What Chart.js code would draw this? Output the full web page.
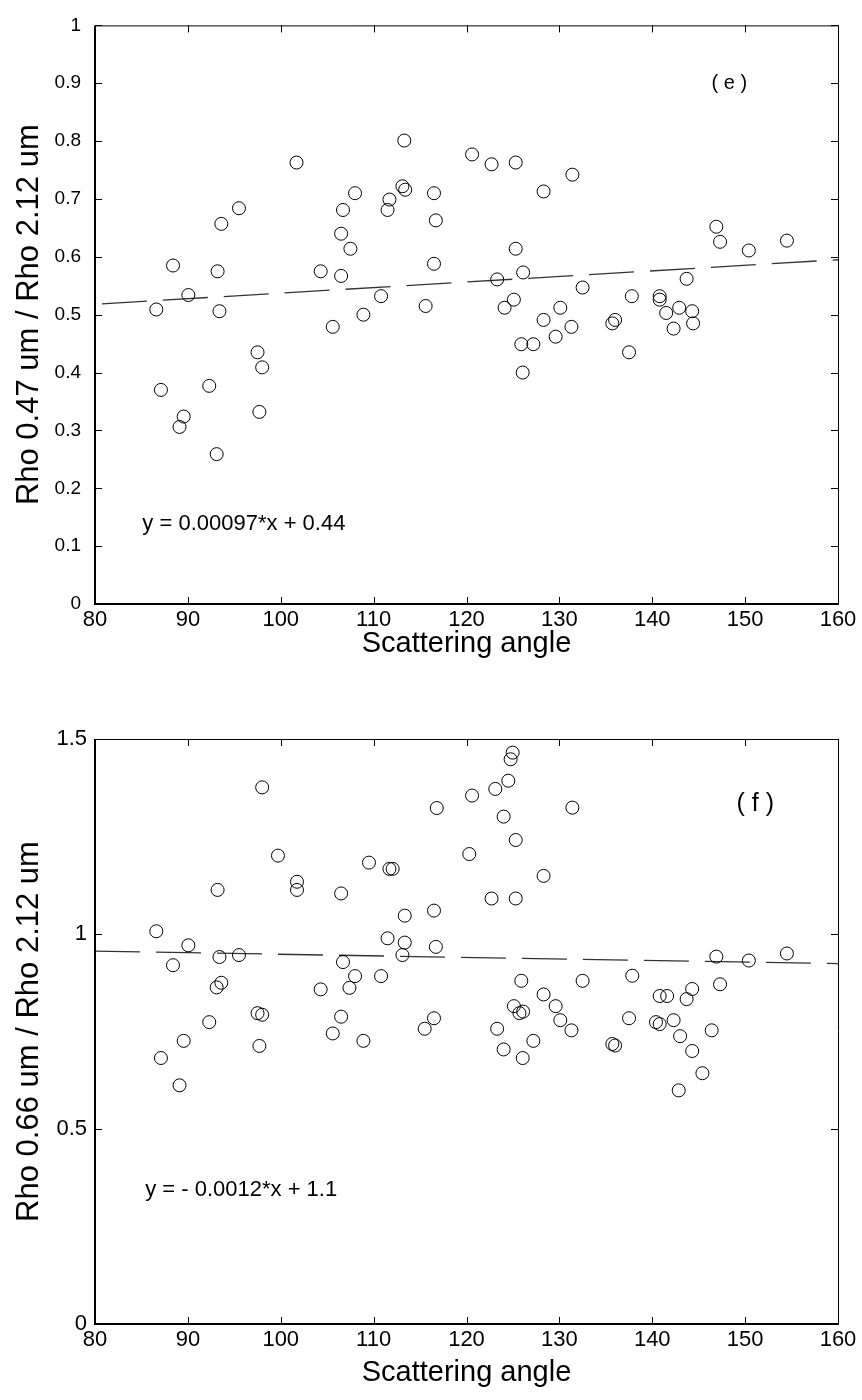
<!DOCTYPE html>
<html>
<head>
<meta charset="utf-8">
<script src="https://cdn.jsdelivr.net/npm/chart.js@4.4.0/dist/chart.umd.min.js"></script>
<style>
html, body { margin: 0; padding: 0; background: #fff; }
canvas { display: block; }
</style>
</head>
<body>
<canvas id="chartE" width="862" height="700"></canvas>
<canvas id="chartF" width="862" height="700"></canvas>
<script>
// Panel (e): Rho 0.47 / Rho 2.12 vs scattering angle
const angleE = [86.6, 87.1, 88.4, 89.1, 89.55, 90.05, 92.3, 93.1, 93.2, 93.4, 93.6, 95.5, 97.5, 97.7, 98.0,
  101.7, 104.3, 105.6, 106.5, 106.5, 106.7, 107.5, 108.0, 108.9, 110.8, 111.5, 111.7, 113.1, 113.4, 113.3,
  115.6, 116.5, 116.7, 116.5, 120.6, 122.7, 123.3, 124.1, 125.1, 125.3, 125.3, 126.1, 125.9, 126.05, 127.2,
  128.3, 128.3, 129.6, 130.1, 131.3, 131.4, 132.5, 135.7, 136.0, 137.5, 137.8, 140.8, 140.8, 141.5, 142.3,
  142.9, 143.7, 144.3, 144.4, 146.9, 147.3, 150.4, 154.5];
const ratioE = [0.509, 0.370, 0.585, 0.306, 0.324, 0.534, 0.377, 0.259, 0.575, 0.506, 0.657, 0.684, 0.435, 0.332, 0.409,
  0.763, 0.575, 0.479, 0.567, 0.640, 0.681, 0.614, 0.710, 0.500, 0.532, 0.681, 0.699, 0.722, 0.716, 0.801,
  0.515, 0.710, 0.663, 0.588, 0.777, 0.760, 0.561, 0.512, 0.526, 0.763, 0.614, 0.573, 0.449, 0.400, 0.449,
  0.713, 0.491, 0.462, 0.512, 0.479, 0.742, 0.547, 0.485, 0.491, 0.435, 0.532, 0.532, 0.526, 0.503, 0.476,
  0.512, 0.562, 0.506, 0.485, 0.652, 0.626, 0.611, 0.628];
const fitXE = [80, 160];
const fitYE = [0.518, 0.595];

// Panel (f): Rho 0.66 / Rho 2.12 vs scattering angle
const angleF = [86.6, 87.1, 88.4, 89.1, 89.55, 90.05, 92.3, 93.1, 93.2, 93.4, 93.6, 95.5, 97.5, 97.7, 98.0,
  98.0, 99.7, 101.75, 101.75, 104.3, 105.6, 106.5, 106.5, 106.7, 107.4, 108.0, 108.9, 109.5, 110.8, 111.5,
  111.7, 112.05, 113.1, 113.35, 113.35, 115.5, 116.5, 116.5, 116.7, 116.8, 120.3, 120.6, 122.7, 123.1, 123.3,
  124.0, 124.0, 124.5, 124.75, 124.97, 125.1, 125.3, 125.3, 125.7, 125.9, 126.05, 126.1, 127.2, 128.3, 128.3,
  129.6, 130.1, 131.3, 131.4, 132.5, 135.7, 136.0, 137.5, 137.85, 140.4, 140.8, 140.8, 141.6, 142.3, 142.85,
  143.0, 143.7, 144.3, 144.3, 145.4, 146.4, 146.9, 147.3, 150.4, 154.5];
const ratioF = [1.007, 0.682, 0.920, 0.612, 0.726, 0.971, 0.774, 0.863, 1.113, 0.941, 0.875, 0.946, 0.797, 0.713, 0.793,
  1.376, 1.201, 1.134, 1.113, 0.858, 0.745, 1.104, 0.788, 0.928, 0.862, 0.892, 0.726, 1.183, 0.892, 0.989,
  1.167, 1.167, 0.946, 1.047, 0.978, 0.757, 1.060, 0.784, 0.967, 1.323, 1.205, 1.355, 1.091, 1.372, 0.757,
  1.301, 0.704, 1.393, 1.448, 1.465, 0.815, 1.241, 1.091, 0.797, 0.880, 0.682, 0.801, 0.726, 1.149, 0.845,
  0.815, 0.779, 0.753, 1.324, 0.880, 0.718, 0.714, 0.784, 0.893, 0.774, 0.841, 0.769, 0.841, 0.779, 0.599,
  0.738, 0.833, 0.859, 0.700, 0.643, 0.753, 0.942, 0.871, 0.932, 0.950];
const fitXF = [80, 160];
const fitYF = [0.956, 0.924];

const xTicks = [80, 90, 100, 110, 120, 130, 140, 150, 160];
const yTicksE = [0, 0.1, 0.2, 0.3, 0.4, 0.5, 0.6, 0.7, 0.8, 0.9, 1];
const yTickLabelsE = ['0', '0.1', '0.2', '0.3', '0.4', '0.5', '0.6', '0.7', '0.8', '0.9', '1'];
const yTicksF = [0, 0.5, 1, 1.5];
const yTickLabelsF = ['0', '0.5', '1', '1.5'];

const FONT = '"Liberation Sans", Arial, Helvetica, sans-serif';
Chart.defaults.font.family = FONT;
Chart.defaults.color = '#000';

// box round the plot area with inward tick marks, plus the text notes
const boxPlugin = {
  id: 'box',
  afterDraw(chart, args, opts) {
    const { ctx, chartArea: a, scales } = chart;
    const x = scales.x, y = scales.y;
    const tl = 7;
    ctx.save();
    ctx.strokeStyle = '#000';
    ctx.lineWidth = 1;
    ctx.beginPath();
    x.ticks.forEach(t => {
      const px = Math.round(x.getPixelForValue(t.value)) + 0.5;
      ctx.moveTo(px, a.bottom); ctx.lineTo(px, a.bottom - tl);
      ctx.moveTo(px, a.top); ctx.lineTo(px, a.top + tl);
    });
    y.ticks.forEach(t => {
      const py = Math.round(y.getPixelForValue(t.value)) + 0.5;
      ctx.moveTo(a.left, py); ctx.lineTo(a.left + tl, py);
      ctx.moveTo(a.right, py); ctx.lineTo(a.right - tl, py);
    });
    ctx.stroke();
    // top and right edges
    ctx.beginPath();
    ctx.moveTo(a.left, a.top + 0.5); ctx.lineTo(a.right + 0.5, a.top + 0.5);
    ctx.lineTo(a.right + 0.5, a.bottom);
    ctx.stroke();
    // left and bottom edges, a bit heavier
    ctx.lineWidth = 2;
    ctx.beginPath();
    ctx.moveTo(a.left, a.top);
    ctx.lineTo(a.left, a.bottom);
    ctx.lineTo(a.right + 1, a.bottom);
    ctx.stroke();

    (opts.notes || []).forEach(n => {
      ctx.font = n.size + 'px ' + FONT;
      ctx.fillStyle = '#000';
      ctx.textAlign = n.align;
      ctx.textBaseline = 'middle';
      ctx.fillText(n.text, x.getPixelForValue(n.x), y.getPixelForValue(n.y));
    });
    ctx.restore();
  }
};

function makeChart(id, angles, ratios, fitX, fitY, yTicks, yLabels, cfg) {
  const pts = angles.map((a, i) => ({ x: a, y: ratios[i] }));
  const fit = fitX.map((a, i) => ({ x: a, y: fitY[i] }));
  return new Chart(document.getElementById(id), {
    type: 'scatter',
    data: {
      datasets: [{
        data: pts,
        pointStyle: 'circle',
        pointRadius: 6.5,
        pointBorderWidth: 1,
        pointBorderColor: '#000',
        pointBackgroundColor: 'rgba(0,0,0,0)',
        showLine: false
      }, {
        data: fit,
        showLine: true,
        pointRadius: 0,
        borderColor: '#333',
        borderWidth: 1.3,
        borderDash: [45, 16],
        borderDashOffset: cfg.dashOffset,
        fill: false
      }]
    },
    options: {
      responsive: false,
      animation: false,
      events: [],
      layout: { padding: { top: cfg.top, right: 24, left: 0, bottom: 0 } },
      plugins: {
        legend: { display: false },
        tooltip: { enabled: false },
        box: { notes: cfg.notes }
      },
      scales: {
        x: {
          type: 'linear', min: 80, max: 160,
          afterBuildTicks: s => { s.ticks = xTicks.map(v => ({ value: v })); },
          afterFit: s => { s.height = cfg.xHeight; },
          grid: { display: false, drawTicks: false },
          border: { display: false },
          ticks: { font: { size: 22 }, padding: 3, maxRotation: 0, callback: v => String(v) },
          title: { display: true, text: 'Scattering angle', font: { size: 29 }, padding: { top: 0, bottom: cfg.xTitlePad } }
        },
        y: {
          type: 'linear', min: 0, max: yTicks[yTicks.length - 1],
          afterBuildTicks: s => { s.ticks = yTicks.map(v => ({ value: v })); },
          afterFit: s => { s.width = 95; },
          grid: { display: false, drawTicks: false },
          border: { display: false },
          ticks: { font: { size: cfg.yTickSize }, padding: cfg.yTickPad, callback: (v) => yLabels[yTicks.indexOf(v)] },
          title: { display: true, text: cfg.yTitle, font: { size: 31 }, padding: { top: 11, bottom: 0 } }
        }
      }
    },
    plugins: [boxPlugin]
  });
}

makeChart('chartE', angleE, ratioE, fitXE, fitYE, yTicksE, yTickLabelsE, {
  top: 19, xHeight: 96, xTitlePad: 39, yTickSize: 19, yTickPad: 14, dashOffset: 54,
  yTitle: 'Rho 0.47 um / Rho 2.12 um',
  notes: [
    { text: '( e )', x: 148.3, y: 0.9, size: 20, align: 'center' },
    { text: 'y = 0.00097*x + 0.44', x: 85.1, y: 0.139, size: 22, align: 'left' }
  ]
});

makeChart('chartF', angleF, ratioF, fitXF, fitYF, yTicksF, yTickLabelsF, {
  top: 39, xHeight: 76, xTitlePad: 10, yTickSize: 22, yTickPad: 8, dashOffset: 0,
  yTitle: 'Rho 0.66 um / Rho 2.12 um',
  notes: [
    { text: '( f )', x: 151.1, y: 1.333, size: 25, align: 'center' },
    { text: 'y = - 0.0012*x + 1.1', x: 85.4, y: 0.344, size: 22, align: 'left' }
  ]
});
</script>
</body>
</html>
